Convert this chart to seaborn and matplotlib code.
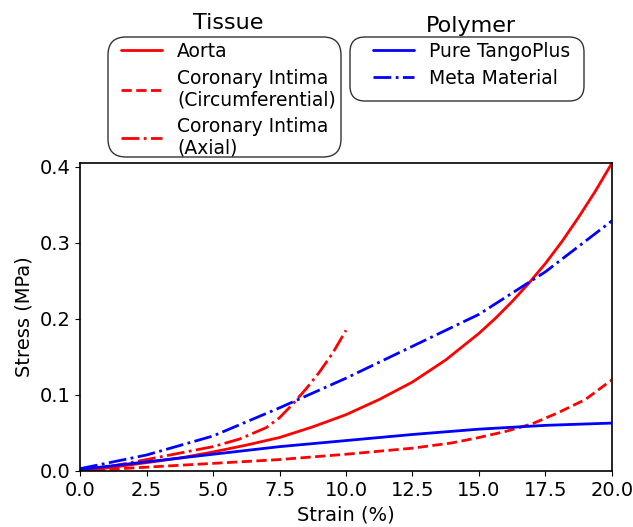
import matplotlib
matplotlib.use("Agg")
import matplotlib.pyplot as plt
from matplotlib.patches import FancyBboxPatch
from matplotlib.transforms import IdentityTransform
import seaborn as sns
import pandas as pd

# values (strain in %, stress in MPa)
aorta_x = [0, 1.25, 2.5, 3.75, 5, 6.25, 7.5, 8.75, 10, 11.25, 12.5, 13.75, 15, 15.625, 16.25, 16.875,
           17.5, 18.125, 18.75, 19.375, 20]
aorta_y = [0, 0.005, 0.011, 0.017, 0.025, 0.034, 0.044, 0.058, 0.074, 0.094, 0.117, 0.146, 0.181, 0.201,
           0.223, 0.247, 0.273, 0.302, 0.334, 0.368, 0.405]

circ_x = [0, 2.5, 5, 7.5, 10, 12.5, 14, 15, 16, 17, 18, 19, 20]
circ_y = [0, 0.005, 0.01, 0.015, 0.022, 0.03, 0.037, 0.044, 0.052, 0.062, 0.077, 0.094, 0.12]

axial_x = [0, 1, 2.5, 5, 6, 7, 7.5, 8, 8.5, 9, 9.5, 10]
axial_y = [0, 0.005, 0.015, 0.032, 0.042, 0.057, 0.07, 0.088, 0.108, 0.13, 0.155, 0.185]

tango_x = [0, 0.5, 1.25, 2.5, 5, 7.5, 10, 12.5, 15, 17.5, 20]
tango_y = [0.002, 0.004, 0.007, 0.012, 0.022, 0.032, 0.04, 0.048, 0.055, 0.06, 0.063]

meta_x = [0, 2.5, 5, 7.5, 10, 12.5, 15, 17.5, 20]
meta_y = [0.003, 0.021, 0.046, 0.083, 0.122, 0.164, 0.206, 0.262, 0.329]

sns.set_style("ticks", {"axes.edgecolor": "black", "text.color": "black", "axes.labelcolor": "black",
                        "xtick.color": "black", "ytick.color": "black"})

fig = plt.figure(figsize=(6.33, 5.27), dpi=100)
ax = fig.add_axes([0.1264, 0.1063, 0.8404, 0.5844])

tissue = [
    ("Aorta", aorta_x, aorta_y, "-"),
    ("Coronary Intima\n(Circumferential)", circ_x, circ_y, "--"),
    ("Coronary Intima\n(Axial)", axial_x, axial_y, "-."),
]
polymer = [
    ("Pure TangoPlus", tango_x, tango_y, "-"),
    ("Meta Material", meta_x, meta_y, "-."),
]

tissue_lines = []
for name, xs, ys, ls in tissue:
    df = pd.DataFrame({"x": xs, "y": ys})
    sns.lineplot(data=df, x="x", y="y", ax=ax, color="red", linestyle=ls, linewidth=2)
    tissue_lines.append((ax.lines[-1], name))

polymer_lines = []
for name, xs, ys, ls in polymer:
    df = pd.DataFrame({"x": xs, "y": ys})
    sns.lineplot(data=df, x="x", y="y", ax=ax, color="blue", linestyle=ls, linewidth=2)
    polymer_lines.append((ax.lines[-1], name))

ax.set_xlim(0, 20)
ax.set_ylim(0, 0.405)
ax.set_xticks([0, 2.5, 5, 7.5, 10, 12.5, 15, 17.5, 20])
ax.set_yticks([0, 0.1, 0.2, 0.3, 0.4])
ax.set_xlabel("Strain (%)", fontsize=14)
ax.set_ylabel("Stress (MPa)", fontsize=14)
ax.tick_params(labelsize=14)
for sp in ax.spines.values():
    sp.set_visible(True)
    sp.set_linewidth(1.2)

W, H = 633, 527

# legends without frames, rounded boxes drawn separately in pixels
fig.legend([l for l, n in tissue_lines], [n for l, n in tissue_lines],
           loc="upper left", bbox_to_anchor=(121 / W, 1 - 42 / H), fontsize=13.5, frameon=False,
           handlelength=2.2, labelspacing=0.4, borderpad=0, borderaxespad=0)
fig.legend([l for l, n in polymer_lines], [n for l, n in polymer_lines],
           loc="upper left", bbox_to_anchor=(373 / W, 1 - 42 / H), fontsize=13.5, frameon=False,
           handlelength=2.2, labelspacing=0.4, borderpad=0, borderaxespad=0)

for x0, y0, x1, y1, r in [(108, 37, 341, 157, 18), (350, 37, 584, 101, 15)]:
    box = FancyBboxPatch((x0, H - y1), x1 - x0, y1 - y0,
                         boxstyle=f"round,pad=0,rounding_size={r}",
                         transform=IdentityTransform(), facecolor="none",
                         edgecolor="#333333", linewidth=1.0)
    fig.patches.append(box)

fig.text(228 / W, 1 - 29 / H, "Tissue", ha="center", va="baseline", fontsize=16)
fig.text(471 / W, 1 - 32 / H, "Polymer", ha="center", va="baseline", fontsize=16)

fig.savefig("out.png", dpi=100)
